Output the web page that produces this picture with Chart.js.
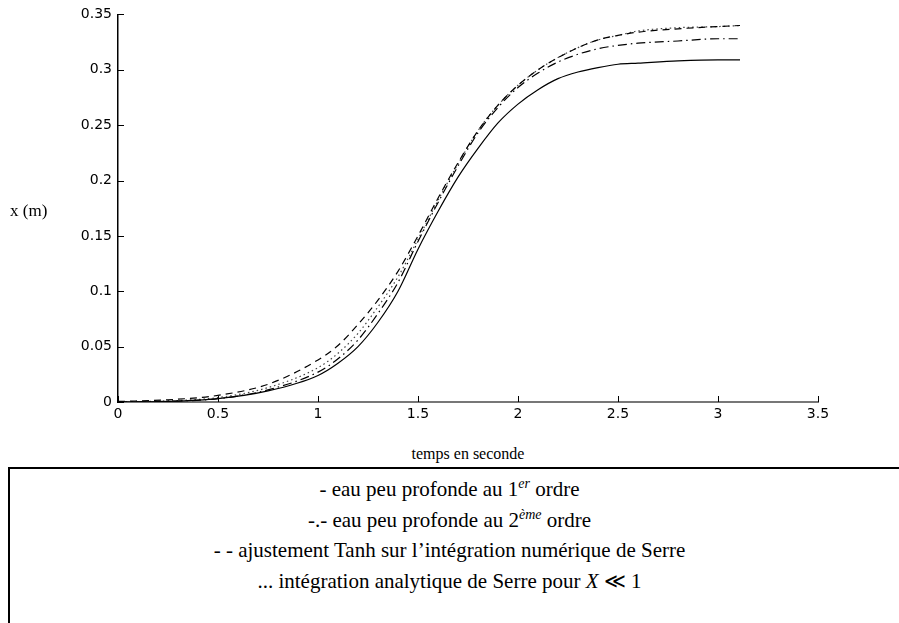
<!DOCTYPE html>
<html>
<head>
<meta charset="utf-8">
<script src="https://cdn.jsdelivr.net/npm/chart.js@4.4.1/dist/chart.umd.min.js"></script>
<style>
  html, body { margin:0; padding:0; background:#fff; }
  body { width:899px; height:623px; overflow:hidden; position:relative; }
  #wrap { position:absolute; left:0; top:0; width:899px; height:440px; }
  .serif { font-family:"Liberation Serif","Times New Roman",serif; color:#000; }
  #ylab { position:absolute; left:10px; top:201px; font-size:17px; white-space:nowrap; }
  #xlab { position:absolute; left:118px; width:700px; top:445px; font-size:16px; text-align:center; }
  #box { position:absolute; left:8px; top:467px; width:1000px; height:300px; border:2px solid #000; box-sizing:border-box; }
  #legend { position:absolute; left:0; top:474px; width:899px; text-align:center; font-size:21px; line-height:30.5px; }
  #legend sup { font-size:14px; font-style:italic; vertical-align:8px; line-height:0; }
  #legend i { font-style:italic; }
</style>
</head>
<body>
<div id="wrap"><canvas id="c" width="899" height="440"></canvas></div>
<div id="ylab" class="serif">x (m)</div>
<div id="xlab" class="serif">temps en seconde</div>
<div id="box"></div>
<div id="legend" class="serif">
  <div>- eau peu profonde au 1<sup>er</sup> ordre</div>
  <div>-.- eau peu profonde au 2<sup>ème</sup> ordre</div>
  <div>- - ajustement Tanh sur l’intégration numérique de Serre</div>
  <div>... intégration analytique de Serre pour <i>X</i> ≪ 1</div>
</div>
<script>
// ---- data ----
const timeValues = [0, 0.25, 0.5, 0.75, 1.0, 1.1, 1.2, 1.3, 1.4, 1.5, 1.6, 1.7, 1.8, 1.9, 2.0, 2.1, 2.2, 2.3, 2.4, 2.5, 2.6, 2.8, 3.0, 3.11];
const firstOrder  = [0, 0.0005, 0.003, 0.010, 0.024, 0.035, 0.050, 0.072, 0.100, 0.138, 0.172, 0.203, 0.229, 0.252, 0.269, 0.282, 0.292, 0.298, 0.302, 0.305, 0.306, 0.308, 0.309, 0.309];
const secondOrder = [0, 0.0006, 0.003, 0.011, 0.027, 0.039, 0.056, 0.080, 0.108, 0.145, 0.180, 0.213, 0.243, 0.266, 0.284, 0.297, 0.307, 0.314, 0.319, 0.322, 0.324, 0.326, 0.328, 0.328];
const tanhFit     = [0.0005, 0.002, 0.006, 0.016, 0.038, 0.051, 0.070, 0.092, 0.118, 0.150, 0.184, 0.216, 0.245, 0.268, 0.286, 0.300, 0.311, 0.320, 0.327, 0.331, 0.334, 0.337, 0.339, 0.340];
const analytic    = [0, 0.001, 0.004, 0.013, 0.031, 0.044, 0.062, 0.086, 0.113, 0.147, 0.182, 0.215, 0.245, 0.268, 0.286, 0.300, 0.311, 0.320, 0.327, 0.331, 0.335, 0.338, 0.339, 0.340];
const xTickValues = [0, 0.5, 1, 1.5, 2, 2.5, 3, 3.5];
const xTickLabels = ["0", "0.5", "1", "1.5", "2", "2.5", "3", "3.5"];
const yTickValues = [0, 0.05, 0.1, 0.15, 0.2, 0.25, 0.3, 0.35];
const yTickLabels = ["0", "0.05", "0.1", "0.15", "0.2", "0.25", "0.3", "0.35"];

const toPts = arr => timeValues.map((t, i) => ({ x: t, y: arr[i] }));

const tickFont = { family: "DejaVu Sans", size: 14 };

const innerTicks = {
  id: 'innerTicks',
  afterDraw(chart) {
    const ctx = chart.ctx, xs = chart.scales.x, ys = chart.scales.y, a = chart.chartArea;
    ctx.save();
    ctx.strokeStyle = '#000';
    ctx.lineWidth = 1;
    ctx.beginPath();
    xTickValues.forEach(v => {
      const px = Math.round(xs.getPixelForValue(v)) + 0.5;
      ctx.moveTo(px, a.bottom); ctx.lineTo(px, a.bottom - 6);
    });
    yTickValues.forEach(v => {
      const py = Math.round(ys.getPixelForValue(v)) + 0.5;
      ctx.moveTo(a.left, py); ctx.lineTo(a.left + 6, py);
    });
    ctx.stroke();
    ctx.restore();
  }
};

const base = { pointRadius: 0, borderColor: '#000', borderWidth: 1.2, fill: false, cubicInterpolationMode: 'monotone' };

new Chart(document.getElementById('c'), {
  type: 'line',
  data: {
    datasets: [
      Object.assign({ label: '1er ordre', data: toPts(firstOrder), borderDash: [] }, base),
      Object.assign({ label: '2eme ordre', data: toPts(secondOrder), borderDash: [9, 4, 1.5, 4] }, base),
      Object.assign({ label: 'Tanh', data: toPts(tanhFit), borderDash: [7, 5] }, base),
      Object.assign({ label: 'analytique', data: toPts(analytic), borderDash: [1.5, 3] }, base, { borderColor: '#444' })
    ]
  },
  options: {
    responsive: false,
    animation: false,
    devicePixelRatio: 1,
    layout: { padding: { top: 14, right: 81, left: 0, bottom: 0 } },
    plugins: { legend: { display: false }, tooltip: { enabled: false } },
    scales: {
      x: {
        type: 'linear', min: 0, max: 3.5,
        afterBuildTicks: s => { s.ticks = xTickValues.map(v => ({ value: v })); },
        afterFit: s => { s.height = 38; },
        ticks: { color: '#000', font: tickFont, padding: 4, maxRotation: 0,
                 callback: (v) => xTickLabels[xTickValues.indexOf(v)] },
        grid: { display: true, drawOnChartArea: false, drawTicks: false },
        border: { display: true, color: '#777', width: 2 }
      },
      y: {
        type: 'linear', min: 0, max: 0.35,
        afterBuildTicks: s => { s.ticks = yTickValues.map(v => ({ value: v })); },
        afterFit: s => { s.width = 118; },
        ticks: { color: '#000', font: tickFont, padding: 6,
                 callback: (v) => yTickLabels[yTickValues.indexOf(v)] },
        grid: { display: true, drawOnChartArea: false, drawTicks: false },
        border: { display: true, color: '#000', width: 1.5 }
      }
    }
  },
  plugins: [innerTicks]
});
</script>
</body>
</html>
